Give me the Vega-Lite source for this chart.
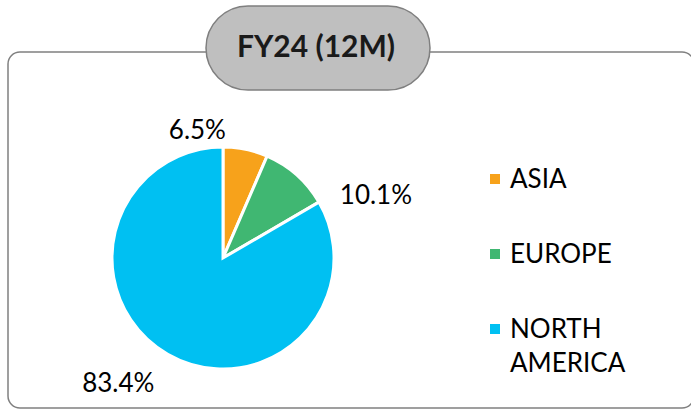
{
  "$schema": "https://vega.github.io/schema/vega-lite/v6.json",
  "width": 691,
  "height": 410,
  "autosize": {"type": "fit", "contains": "padding"},
  "padding": 0,
  "background": "white",
  "config": {"view": {"stroke": null}, "font": "Lato", "style": {"guide-label": {"lineHeight": 34}}},
  "datasets": {
    "regions": [
      {"region": "ASIA", "share": 0.065},
      {"region": "EUROPE", "share": 0.101},
      {"region": "NORTH AMERICA", "share": 0.834}
    ],
    "header": [{"title": "FY24 (12M)"}]
  },
  "layer": [
    {
      "data": {"name": "header"},
      "mark": {"type": "rect", "filled": false, "stroke": "#808080", "strokeWidth": 1.5, "cornerRadius": 12},
      "encoding": {"x": {"value": 8}, "x2": {"value": 694}, "y": {"value": 52}, "y2": {"value": 408}}
    },
    {
      "data": {"name": "header"},
      "mark": {"type": "rect", "fill": "#bfbfbf", "stroke": "#7f7f7f", "strokeWidth": 1.5, "cornerRadius": 42},
      "encoding": {"x": {"value": 206}, "x2": {"value": 430}, "y": {"value": 6}, "y2": {"value": 90}}
    },
    {
      "data": {"name": "header"},
      "mark": {"type": "text", "font": "Lato", "fontSize": 30, "fontWeight": "bold", "color": "#1a1a1a", "align": "center", "baseline": "middle"},
      "encoding": {"x": {"value": 316}, "y": {"value": 48}, "text": {"field": "title"}}
    },
    {
      "data": {"name": "regions"},
      "mark": {"type": "arc", "outerRadius": 111, "stroke": "white", "strokeWidth": 3},
      "encoding": {
        "x": {"value": 223},
        "y": {"value": 258},
        "theta": {"field": "share", "type": "quantitative", "stack": true},
        "order": {"field": "region", "type": "ordinal", "sort": "ascending"},
        "color": {
          "field": "region",
          "type": "nominal",
          "scale": {"domain": ["ASIA", "EUROPE", "NORTH AMERICA"], "range": ["#F7A21B", "#40B772", "#00C0F2"]},
          "legend": {
            "orient": "none",
            "legendX": 482,
            "legendY": 154,
            "title": null,
            "symbolType": "M-1,1.4L1,1.4L1,3.4L-1,3.4Z",
            "symbolSize": 100,
            "symbolStrokeWidth": 0,
            "labelFont": "Lato",
            "labelFontSize": 26,
            "labelColor": "#000000",
            "labelBaseline": "top",
            "labelOffset": 2,
            "labelLimit": 0,
            "rowPadding": 36,
            "labelExpr": "datum.label === 'NORTH AMERICA' ? ['NORTH', 'AMERICA'] : datum.label"
          }
        }
      }
    },
    {
      "data": {"name": "regions"},
      "mark": {"type": "text", "font": "Lato", "fontSize": 26, "color": "#000000", "align": "center", "baseline": "middle", "radius": 140, "dx": -54, "dy": 10},
      "encoding": {
        "x": {"value": 223},
        "y": {"value": 258},
        "theta": {"field": "share", "type": "quantitative", "stack": true},
        "order": {"field": "region", "type": "ordinal", "sort": "ascending"},
        "detail": {"field": "region"},
        "text": {"condition": {"test": "datum.region === 'ASIA'", "field": "share", "format": ".1%"}, "value": ""}
      }
    },
    {
      "data": {"name": "regions"},
      "mark": {"type": "text", "font": "Lato", "fontSize": 26, "color": "#000000", "align": "center", "baseline": "middle", "radius": 140, "dx": 60, "dy": 43},
      "encoding": {
        "x": {"value": 223},
        "y": {"value": 258},
        "theta": {"field": "share", "type": "quantitative", "stack": true},
        "order": {"field": "region", "type": "ordinal", "sort": "ascending"},
        "detail": {"field": "region"},
        "text": {"condition": {"test": "datum.region === 'EUROPE'", "field": "share", "format": ".1%"}, "value": ""}
      }
    },
    {
      "data": {"name": "regions"},
      "mark": {"type": "text", "font": "Lato", "fontSize": 26, "color": "#000000", "align": "center", "baseline": "middle", "radius": 140, "dx": -35, "dy": 5},
      "encoding": {
        "x": {"value": 223},
        "y": {"value": 258},
        "theta": {"field": "share", "type": "quantitative", "stack": true},
        "order": {"field": "region", "type": "ordinal", "sort": "ascending"},
        "detail": {"field": "region"},
        "text": {"condition": {"test": "datum.region === 'NORTH AMERICA'", "field": "share", "format": ".1%"}, "value": ""}
      }
    }
  ]
}
